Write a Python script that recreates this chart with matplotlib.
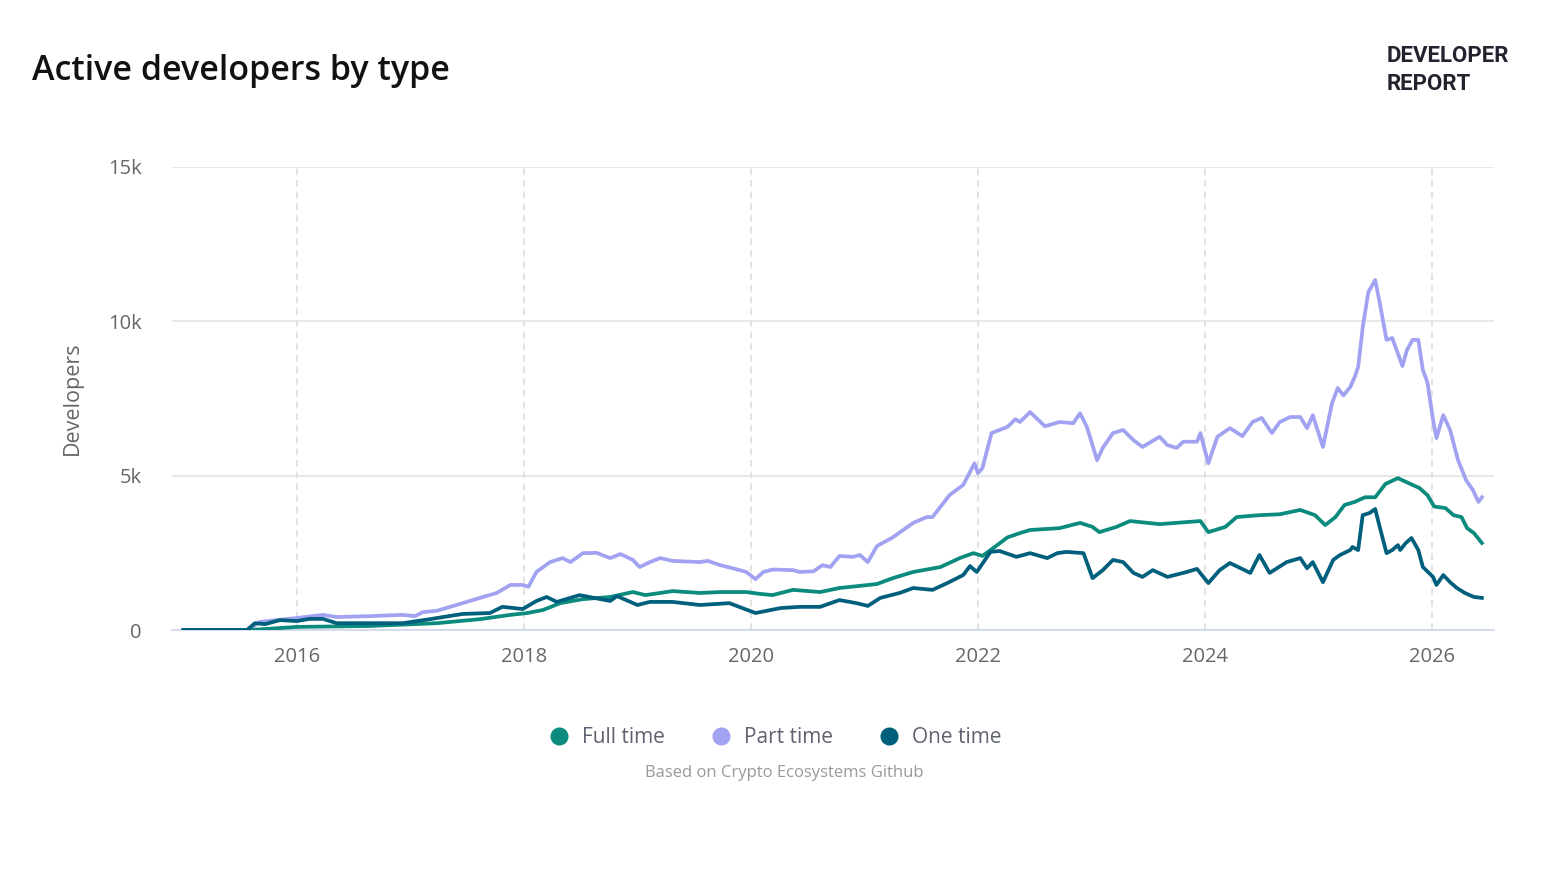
import matplotlib.pyplot as plt
from matplotlib.lines import Line2D
from matplotlib.ticker import FuncFormatter

# decimal years and developer counts (thousands)
full_x = [2015.0, 2015.59, 2016.0, 2016.64, 2017.23, 2017.61, 2017.88, 2018.03, 2018.17, 2018.32,
          2018.52, 2018.76, 2018.96, 2019.07, 2019.2, 2019.31, 2019.55, 2019.73, 2019.96, 2020.08,
          2020.19, 2020.37, 2020.61, 2020.78, 2020.96, 2021.11, 2021.25, 2021.43, 2021.67, 2021.84,
          2021.96, 2022.04, 2022.17, 2022.26, 2022.37, 2022.46, 2022.72, 2022.9, 2023.01, 2023.07,
          2023.22, 2023.34, 2023.6, 2023.96, 2024.03, 2024.18, 2024.28, 2024.48, 2024.66, 2024.84,
          2024.97, 2025.06, 2025.15, 2025.23, 2025.32, 2025.41, 2025.5, 2025.59, 2025.7, 2025.77,
          2025.89, 2025.96, 2026.02, 2026.12, 2026.19, 2026.26, 2026.31, 2026.37, 2026.44]
full_y = [0, 0, 0.1, 0.13, 0.22, 0.35, 0.49, 0.55, 0.65, 0.87,
          1.0, 1.07, 1.23, 1.13, 1.2, 1.26, 1.2, 1.23, 1.23, 1.17,
          1.13, 1.3, 1.23, 1.36, 1.43, 1.49, 1.68, 1.88, 2.04, 2.33,
          2.49, 2.4, 2.75, 3.0, 3.14, 3.24, 3.3, 3.47, 3.34, 3.17,
          3.34, 3.53, 3.43, 3.53, 3.17, 3.34, 3.66, 3.72, 3.75, 3.89,
          3.72, 3.4, 3.66, 4.05, 4.15, 4.3, 4.3, 4.73, 4.92, 4.8,
          4.6, 4.37, 4.0, 3.95, 3.72, 3.66, 3.3, 3.14, 2.82]

part_x = [2015.0, 2015.57, 2015.67, 2016.0, 2016.23, 2016.35, 2016.64, 2016.93, 2017.04, 2017.11,
          2017.23, 2017.46, 2017.64, 2017.76, 2017.88, 2017.99, 2018.04, 2018.11, 2018.23, 2018.34,
          2018.41, 2018.52, 2018.64, 2018.76, 2018.85, 2018.96, 2019.02, 2019.11, 2019.2, 2019.31,
          2019.55, 2019.62, 2019.73, 2019.84, 2019.96, 2020.04, 2020.11, 2020.19, 2020.37, 2020.43,
          2020.55, 2020.63, 2020.7, 2020.78, 2020.9, 2020.96, 2021.03, 2021.11, 2021.25, 2021.43,
          2021.55, 2021.6, 2021.75, 2021.87, 2021.97, 2022.0, 2022.04, 2022.12, 2022.19, 2022.26,
          2022.33, 2022.37, 2022.46, 2022.59, 2022.72, 2022.84, 2022.9, 2022.96, 2023.05, 2023.1,
          2023.19, 2023.28, 2023.37, 2023.45, 2023.6, 2023.67, 2023.75, 2023.81, 2023.93, 2023.96,
          2024.03, 2024.11, 2024.22, 2024.33, 2024.42, 2024.5, 2024.59, 2024.66, 2024.75, 2024.84,
          2024.9, 2024.95, 2025.04, 2025.12, 2025.17, 2025.22, 2025.28, 2025.32, 2025.35, 2025.39,
          2025.44, 2025.5, 2025.54, 2025.6, 2025.65, 2025.74, 2025.78, 2025.83, 2025.88, 2025.92,
          2025.96, 2026.01, 2026.04, 2026.1, 2026.16, 2026.23, 2026.3, 2026.36, 2026.41, 2026.44]
part_y = [0, 0, 0.26, 0.39, 0.49, 0.42, 0.45, 0.49, 0.45, 0.58,
          0.62, 0.87, 1.07, 1.2, 1.46, 1.46, 1.4, 1.88, 2.2, 2.33,
          2.2, 2.49, 2.5, 2.33, 2.46, 2.27, 2.04, 2.2, 2.33, 2.24,
          2.2, 2.24, 2.1, 2.0, 1.88, 1.65, 1.88, 1.96, 1.94, 1.88,
          1.9, 2.1, 2.04, 2.4, 2.37, 2.43, 2.2, 2.72, 3.0, 3.47,
          3.66, 3.66, 4.37, 4.7, 5.4, 5.08, 5.25, 6.38, 6.48, 6.58,
          6.83, 6.74, 7.06, 6.6, 6.74, 6.7, 7.02, 6.58, 5.5, 5.9,
          6.38, 6.48, 6.15, 5.93, 6.26, 5.99, 5.9, 6.1, 6.1, 6.38,
          5.4, 6.26, 6.54, 6.28, 6.74, 6.87, 6.38, 6.74, 6.9, 6.9,
          6.54, 6.96, 5.93, 7.35, 7.84, 7.6, 7.87, 8.2, 8.52, 9.8,
          10.95, 11.34, 10.6, 9.4, 9.46, 8.55, 9.07, 9.4, 9.4, 8.42,
          8.03, 6.8, 6.22, 6.96, 6.48, 5.5, 4.86, 4.54, 4.15, 4.3]

one_x = [2015.0, 2015.56, 2015.63, 2015.72, 2015.85, 2016.0, 2016.11, 2016.23, 2016.35, 2016.64,
         2016.93, 2017.17, 2017.46, 2017.7, 2017.81, 2017.99, 2018.11, 2018.2, 2018.29, 2018.49,
         2018.76, 2018.82, 2019.0, 2019.11, 2019.31, 2019.55, 2019.81, 2020.04, 2020.26, 2020.43,
         2020.61, 2020.78, 2020.93, 2021.03, 2021.14, 2021.31, 2021.43, 2021.6, 2021.73, 2021.87,
         2021.93, 2021.99, 2022.11, 2022.19, 2022.34, 2022.46, 2022.61, 2022.7, 2022.78, 2022.93,
         2023.01, 2023.1, 2023.19, 2023.28, 2023.37, 2023.45, 2023.54, 2023.67, 2023.84, 2023.93,
         2024.03, 2024.13, 2024.22, 2024.4, 2024.48, 2024.57, 2024.72, 2024.84, 2024.9, 2024.95,
         2025.04, 2025.13, 2025.19, 2025.28, 2025.3, 2025.35, 2025.39, 2025.45, 2025.5, 2025.54,
         2025.6, 2025.65, 2025.7, 2025.72, 2025.77, 2025.82, 2025.88, 2025.92, 2026.01, 2026.04,
         2026.1, 2026.16, 2026.22, 2026.29, 2026.37, 2026.44]
one_y = [0, 0, 0.22, 0.19, 0.32, 0.29, 0.36, 0.36, 0.22, 0.22,
         0.22, 0.35, 0.52, 0.55, 0.75, 0.68, 0.94, 1.07, 0.91, 1.13,
         0.94, 1.1, 0.81, 0.91, 0.91, 0.81, 0.87, 0.55, 0.71, 0.75,
         0.75, 0.97, 0.87, 0.78, 1.04, 1.2, 1.36, 1.3, 1.52, 1.78,
         2.07, 1.88, 2.53, 2.56, 2.37, 2.49, 2.33, 2.49, 2.53, 2.49,
         1.68, 1.94, 2.27, 2.2, 1.85, 1.72, 1.94, 1.72, 1.88, 1.98,
         1.52, 1.94, 2.17, 1.85, 2.43, 1.85, 2.2, 2.33, 2.0, 2.2,
         1.55, 2.27, 2.43, 2.59, 2.69, 2.59, 3.72, 3.79, 3.92, 3.34,
         2.49, 2.59, 2.75, 2.59, 2.82, 2.98, 2.59, 2.04, 1.72, 1.46,
         1.78, 1.55, 1.36, 1.2, 1.07, 1.04]

years = [2016, 2018, 2020, 2022, 2024, 2026]
labels = ["Full time", "Part time", "One time"]
colors = ["#0b8b7d", "#a2a2f2", "#005f7d"]

plt.rcParams['font.family'] = ['Open Sans', 'DejaVu Sans']

fig = plt.figure(figsize=(15.46, 8.94), dpi=100)
ax = fig.add_axes([0.1113, 0.2953, 0.855, 0.5179])

ax.plot(part_x, [v * 1000 for v in part_y], color=colors[1], lw=2.7, zorder=3, solid_joinstyle='round')
ax.plot(full_x, [v * 1000 for v in full_y], color=colors[0], lw=2.7, zorder=4, solid_joinstyle='round')
ax.plot(one_x, [v * 1000 for v in one_y], color=colors[2], lw=2.7, zorder=5, solid_joinstyle='round')

ax.set_xlim(2014.9, 2026.546)
ax.set_ylim(0, 15000)
ax.set_yticks([0, 5000, 10000, 15000])
ax.yaxis.set_major_formatter(FuncFormatter(lambda v, p: "0" if v == 0 else f"{int(v / 1000)}k"))
ax.set_xticks(years)
ax.set_xticklabels([str(y) for y in years])

ax.grid(axis='y', color='#e3e3e3', lw=1.2)
ax.grid(axis='x', color='#dedede', lw=1.2, linestyle=(0, (4, 3)))
ax.set_axisbelow(True)
for s in ['top', 'right', 'left']:
    ax.spines[s].set_visible(False)
ax.spines['bottom'].set_color('#ccd6eb')
ax.spines['bottom'].set_linewidth(1.2)
ax.tick_params(axis='both', length=0, labelsize=14.5, labelcolor='#666666')
ax.tick_params(axis='x', pad=12)
ax.tick_params(axis='y', pad=22)
ax.set_ylabel("Developers", fontsize=15.5, color='#666666', labelpad=18)

fig.text(0.021, 0.921, "Active developers by type", fontsize=24.5, fontweight='semibold',
         color='#111111', va='center', ha='left')
fig.text(0.897, 0.937, "DEVELOPER", fontsize=16, fontweight='bold', color='#22232e',
         va='center', ha='left', family='Roboto')
fig.text(0.897, 0.906, "REPORT", fontsize=16, fontweight='bold', color='#22232e',
         va='center', ha='left', family='Roboto')

handles = [Line2D([], [], marker='o', linestyle='', markersize=12, color=c) for c in colors]
leg = fig.legend(handles, labels, loc='center', bbox_to_anchor=(0.498, 0.175), ncol=3,
                 frameon=False, fontsize=15, handletextpad=0.1, columnspacing=1.7)
for t in leg.get_texts():
    t.set_color('#5f6270')

fig.text(0.507, 0.135, "Based on Crypto Ecosystems Github", fontsize=12, color='#999999',
         ha='center', va='center')

fig.savefig("out.png", dpi=100)
